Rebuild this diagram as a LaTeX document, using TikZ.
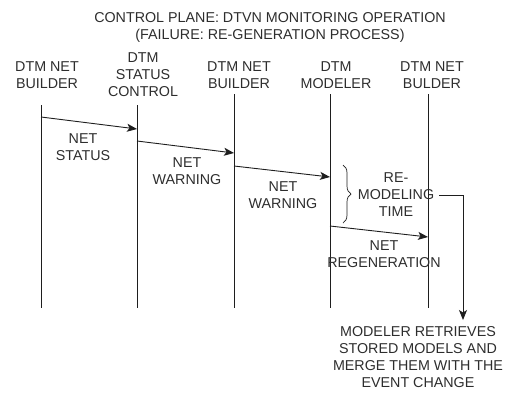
\documentclass[tikz,border=0pt]{standalone}
\usepackage{fontspec}
\setmainfont{Liberation Sans}
\usetikzlibrary{arrows.meta,decorations.pathreplacing}
\begin{document}
\begin{tikzpicture}[x=1pt,y=-1pt,
  txt/.style={align=center,inner sep=2pt,font=\fontsize{14.3}{17}\selectfont,text={rgb,255:red,45;green,45;blue,45}},
  life/.style={line width=0.9pt,draw={rgb,255:red,30;green,30;blue,30}},
  msg/.style={line width=0.9pt,draw={rgb,255:red,30;green,30;blue,30},-{Stealth[length=10pt,width=8pt,inset=2.5pt]}}]
\useasboundingbox (0,0) rectangle (506,392);
% title
\node[txt] (title) at (270,27) {CONTROL PLANE: DTVN MONITORING OPERATION\\(FAILURE: RE-GENERATION PROCESS)};
% headers
\node[txt] (h1) at (47,75) {DTM NET\\BUILDER};
\node[txt] (h2) at (143,75) {DTM\\STATUS\\CONTROL};
\node[txt] (h3) at (239,75) {DTM NET\\BUILDER};
\node[txt] (h4) at (336,75) {DTM\\MODELER};
\node[txt] (h5) at (432,75) {DTM NET\\BULDER};
% lifelines
\coordinate (t1) at (41,105); \coordinate (b1) at (41,308);
\coordinate (t2) at (137,105); \coordinate (b2) at (137,308);
\coordinate (t3) at (234,94); \coordinate (b3) at (234,308);
\coordinate (t4) at (330,94); \coordinate (b4) at (330,308);
\coordinate (t5) at (428,94); \coordinate (b5) at (428,308);
\draw[life] (t1) -- (b1);
\draw[life] (t2) -- (b2);
\draw[life] (t3) -- (b3);
\draw[life] (t4) -- (b4);
\draw[life] (t5) -- (b5);
% messages
\coordinate (m1s) at (41,117); \coordinate (m1e) at (137,129);
\coordinate (m2s) at (137,141); \coordinate (m2e) at (234,153);
\coordinate (m3s) at (234,166); \coordinate (m3e) at (330,177);
\coordinate (m4s) at (330,226); \coordinate (m4e) at (428,237);
\draw[msg] (m1s) -- (m1e);
\draw[msg] (m2s) -- (m2e);
\draw[msg] (m3s) -- (m3e);
\draw[msg] (m4s) -- (m4e);
\node[txt] (l1) at (83,147) {NET\\STATUS};
\node[txt] (l2) at (187,171) {NET\\WARNING};
\node[txt] (l3) at (283,195) {NET\\WARNING};
\node[txt] (l4) at (384,254.5) {NET\\REGENERATION};
\node[txt] (remodel) at (396,195) {RE-\\MODELING\\TIME};
% brace
\coordinate (bt) at (343,165); \coordinate (bb) at (343,223);
\draw[life,line width=0.7pt,decorate,decoration={brace,amplitude=8pt}] (bt) -- (bb);
% connector to bottom text
\node[txt] (note) at (418,357.5) {MODELER RETRIEVES\\STORED MODELS AND\\MERGE THEM WITH THE\\EVENT CHANGE};
\coordinate (ce) at (463,320);
\draw[msg] ([xshift=3pt]remodel.east) -| (ce);
\end{tikzpicture}
\end{document}
